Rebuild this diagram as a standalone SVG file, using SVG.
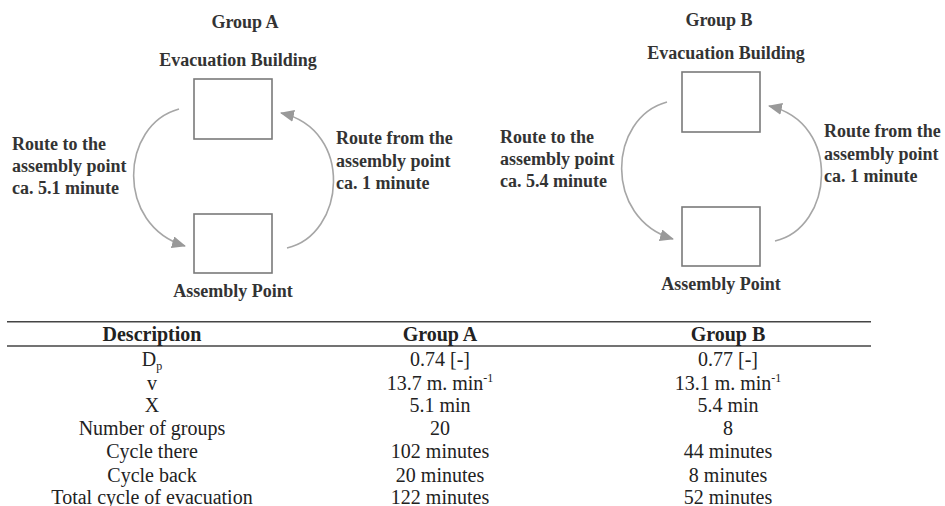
<svg xmlns="http://www.w3.org/2000/svg" width="945" height="506" viewBox="0 0 945 506">
<style>
text{font-family:"Times New Roman","Liberation Serif","DejaVu Serif",serif}
.lbl{font-weight:bold;font-size:18px;fill:#333}
.mid{text-anchor:middle}
.box{fill:#fff;stroke:#7a7a7a;stroke-width:1.6}
.arc{fill:none;stroke:#a6a6a6;stroke-width:1.6}
.th{font-weight:bold;font-size:20px;fill:#222;text-anchor:middle}
.td{font-size:20px;fill:#222;text-anchor:middle}
.rule{stroke:#444;stroke-width:1.6}
</style>
<defs>
<marker id="ah" markerUnits="userSpaceOnUse" markerWidth="14" markerHeight="12" viewBox="0 0 14 12" refX="13" refY="6" orient="auto">
<path d="M0,0 L14,6 L0,12 Z" fill="#999"/>
</marker>
</defs>
<rect width="945" height="506" fill="#fff"/>

<g id="groupA">
<text class="lbl mid" x="245" y="28">Group A</text>
<g id="A-building">
<text class="lbl mid" x="238" y="66">Evacuation Building</text>
<rect class="box" x="194" y="79" width="78" height="60"/>
</g>
<g id="A-assembly">
<rect class="box" x="194" y="214" width="78" height="59"/>
<text class="lbl mid" x="233" y="297">Assembly Point</text>
</g>
<g id="A-left-label">
<text class="lbl" x="12" y="150">Route to the</text>
<text class="lbl" x="12" y="172">assembly point</text>
<text class="lbl" x="12" y="194">ca. 5.1 minute</text>
</g>
<g id="A-right-label">
<text class="lbl" x="336" y="144">Route from the</text>
<text class="lbl" x="336" y="167">assembly point</text>
<text class="lbl" x="336" y="189">ca. 1 minute</text>
</g>
</g>

<g id="groupB">
<text class="lbl mid" x="719" y="26">Group B</text>
<g id="B-building">
<text class="lbl mid" x="726" y="59">Evacuation Building</text>
<rect class="box" x="682" y="72" width="78" height="60"/>
</g>
<g id="B-assembly">
<rect class="box" x="682" y="207" width="78" height="59"/>
<text class="lbl mid" x="721" y="290">Assembly Point</text>
</g>
<g id="B-left-label">
<text class="lbl" x="500" y="143">Route to the</text>
<text class="lbl" x="500" y="165">assembly point</text>
<text class="lbl" x="500" y="187">ca. 5.4 minute</text>
</g>
<g id="B-right-label">
<text class="lbl" x="824" y="137">Route from the</text>
<text class="lbl" x="824" y="160">assembly point</text>
<text class="lbl" x="824" y="182">ca. 1 minute</text>
</g>
</g>

<g id="connectors">
<path class="arc" d="M179,109 C120,125 115,225 185,246" marker-end="url(#ah)"/>
<path class="arc" d="M287,248 C345,235 355,130 281,113" marker-end="url(#ah)"/>
<path class="arc" d="M667,102 C608,118 603,218 673,239" marker-end="url(#ah)"/>
<path class="arc" d="M775,241 C833,228 843,123 769,106" marker-end="url(#ah)"/>
</g>

<g id="table">
<line class="rule" x1="7" y1="321.7" x2="871" y2="321.7"/>
<line class="rule" x1="7" y1="346" x2="871" y2="346"/>
<text class="th" x="152" y="341">Description</text>
<text class="th" x="440" y="341">Group A</text>
<text class="th" x="728" y="341">Group B</text>

<text class="td" x="152" y="366">D<tspan font-size="12" dy="4">p</tspan></text>
<text class="td" x="440" y="366">0.74 [-]</text>
<text class="td" x="728" y="366">0.77 [-]</text>

<text class="td" x="152" y="390">v</text>
<text class="td" x="440" y="390">13.7 m. min<tspan font-size="12" dy="-8">-1</tspan></text>
<text class="td" x="728" y="390">13.1 m. min<tspan font-size="12" dy="-8">-1</tspan></text>

<text class="td" x="152" y="412">X</text>
<text class="td" x="440" y="412">5.1 min</text>
<text class="td" x="728" y="412">5.4 min</text>

<text class="td" x="152" y="435">Number of groups</text>
<text class="td" x="440" y="435">20</text>
<text class="td" x="728" y="435">8</text>

<text class="td" x="152" y="458">Cycle there</text>
<text class="td" x="440" y="458">102 minutes</text>
<text class="td" x="728" y="458">44 minutes</text>

<text class="td" x="152" y="482">Cycle back</text>
<text class="td" x="440" y="482">20 minutes</text>
<text class="td" x="728" y="482">8 minutes</text>

<text class="td" x="152" y="504">Total cycle of evacuation</text>
<text class="td" x="440" y="504">122 minutes</text>
<text class="td" x="728" y="504">52 minutes</text>
</g>
</svg>
